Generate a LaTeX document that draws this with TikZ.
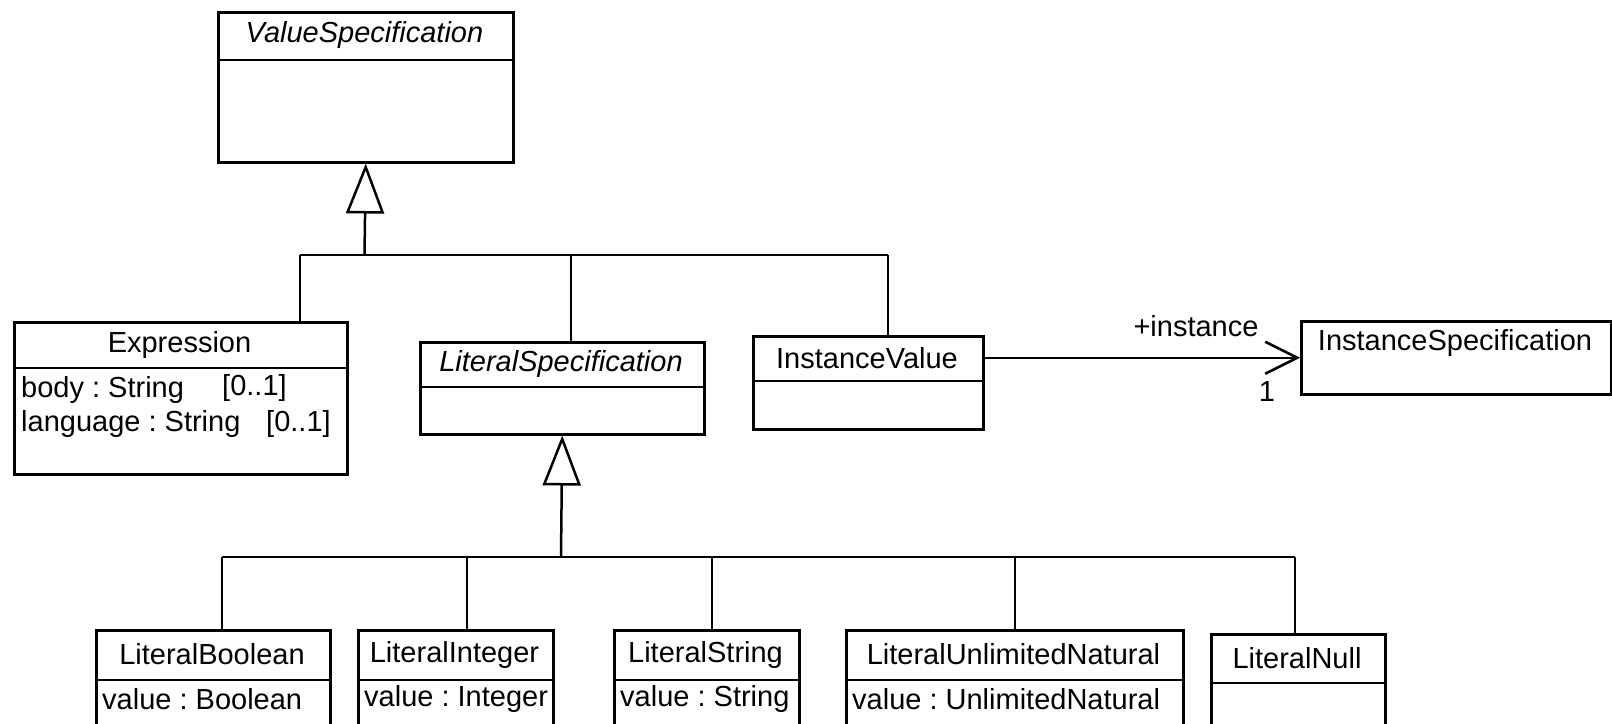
\documentclass[tikz,border=0pt]{standalone}
\usepackage{fontspec}
\setmainfont{Liberation Sans}
\usetikzlibrary{arrows.meta}
\frenchspacing
\tikzset{
  umlbox/.style={draw, line width=2.5pt, anchor=north west, inner sep=0pt},
  umltext/.style={inner sep=0pt, font=\fontsize{29}{33}\selectfont},
  umlline/.style={line width=2.5pt},
  gen/.style={umlline, -{Triangle[open, length=50pt, width=38pt, fill=white]}},
  assoc/.style={umlline, -{Straight Barb[length=32pt, width=32pt]}}
}
\begin{document}
\begin{tikzpicture}[x=1pt,y=-1pt]
  \useasboundingbox (0,0) rectangle (1612,723);
  \clip (0,0) rectangle (1612,723);
  % top class
  \node[umlbox, minimum width=295pt, minimum height=150pt] (vs) at (217,11) {};
  \draw[umlline] ([yshift=-49pt]vs.north west) -- ([yshift=-49pt]vs.north east);
  \node[umltext] (vsname) at (364.5,35.5) {\itshape ValueSpecification};
  % middle classes
  \node[umlbox, minimum width=333pt, minimum height=152pt] (expr) at (13,321) {};
  \draw[umlline] ([yshift=-47pt]expr.north west) -- ([yshift=-47pt]expr.north east);
  \node[umltext] (exprname) at (179.5,344.5) {Expression};
  \node[umltext, anchor=west] (exprbody) at (21,390) {body : String};
  \node[umltext, anchor=west] (exprbodym) at (222,388) {[0..1]};
  \node[umltext, anchor=west] (exprlang) at (21,424) {language : String};
  \node[umltext, anchor=west] (exprlangm) at (266,424) {[0..1]};

  \node[umlbox, minimum width=284pt, minimum height=92pt] (ls) at (419,341) {};
  \draw[umlline] ([yshift=-46pt]ls.north west) -- ([yshift=-46pt]ls.north east);
  \node[umltext] (lsname) at (561,364) {\itshape LiteralSpecification};

  \node[umlbox, minimum width=230pt, minimum height=93pt] (iv) at (752,335) {};
  \draw[umlline] ([yshift=-46pt]iv.north west) -- ([yshift=-46pt]iv.north east);
  \node[umltext] (ivname) at (867,358) {InstanceValue};

  \node[umlbox, minimum width=310pt, minimum height=73pt] (is) at (1300,320) {};
  \node[umltext] (isname) at (1455,343) {InstanceSpecification};

  % literal classes
  \node[umlbox, minimum width=234pt, minimum height=130pt] (lb) at (95,629) {};
  \draw[umlline] ([yshift=-51pt]lb.north west) -- ([yshift=-51pt]lb.north east);
  \node[umltext] (lbname) at (212,654.5) {LiteralBoolean};
  \node[umltext, anchor=west] (lbval) at (102,699) {value : Boolean};

  \node[umlbox, minimum width=195pt, minimum height=130pt] (li) at (357,629) {};
  \draw[umlline] ([yshift=-51pt]li.north west) -- ([yshift=-51pt]li.north east);
  \node[umltext] (liname) at (454.5,654.5) {LiteralInteger};
  \node[umltext, anchor=west] (lival) at (364,699) {value : Integer};

  \node[umlbox, minimum width=185pt, minimum height=130pt] (lstr) at (613,629) {};
  \draw[umlline] ([yshift=-51pt]lstr.north west) -- ([yshift=-51pt]lstr.north east);
  \node[umltext] (lstrname) at (705.5,654.5) {LiteralString};
  \node[umltext, anchor=west] (lstrval) at (620,699) {value : String};

  \node[umlbox, minimum width=337pt, minimum height=130pt] (lun) at (845,629) {};
  \draw[umlline] ([yshift=-51pt]lun.north west) -- ([yshift=-51pt]lun.north east);
  \node[umltext] (lunname) at (1013.5,654.5) {LiteralUnlimitedNatural};
  \node[umltext, anchor=west] (lunval) at (852,699) {value : UnlimitedNatural};

  \node[umlbox, minimum width=174pt, minimum height=130pt] (ln) at (1210,633) {};
  \draw[umlline] ([yshift=-50pt]ln.north west) -- ([yshift=-50pt]ln.north east);
  \node[umltext] (lnname) at (1297,658) {LiteralNull};

  % generalization to ValueSpecification
  \coordinate (g1) at (364.5,255);
  \coordinate (g1a) at (300,255);
  \coordinate (g1b) at (571,255);
  \coordinate (g1c) at (888,255);
  \draw[gen] (g1) -- (vs.south);
  \draw[umlline] (g1a) -- (g1c);
  \draw[umlline] (g1a) -- (g1a |- expr.north);
  \draw[umlline] (g1b) -- (g1b |- ls.north);
  \draw[umlline] (g1c) -- (g1c |- iv.north);

  % generalization to LiteralSpecification
  \coordinate (g2) at (561,557);
  \coordinate (g2a) at (222,557);
  \coordinate (g2b) at (467,557);
  \coordinate (g2c) at (712,557);
  \coordinate (g2d) at (1015,557);
  \coordinate (g2e) at (1295,557);
  \draw[gen] (g2) -- (ls.south);
  \draw[umlline] (g2a) -- (g2e);
  \draw[umlline] (g2a) -- (g2a |- lb.north);
  \draw[umlline] (g2b) -- (g2b |- li.north);
  \draw[umlline] (g2c) -- (g2c |- lstr.north);
  \draw[umlline] (g2d) -- (g2d |- lun.north);
  \draw[umlline] (g2e) -- (g2e |- ln.north);

  % association
  \draw[assoc] (iv.east |- is.west) -- (is.west);
  \node[umltext] (rolename) at (1196,326) {+instance};
  \node[umltext] (mult) at (1267,392) {1};
\end{tikzpicture}
\end{document}
